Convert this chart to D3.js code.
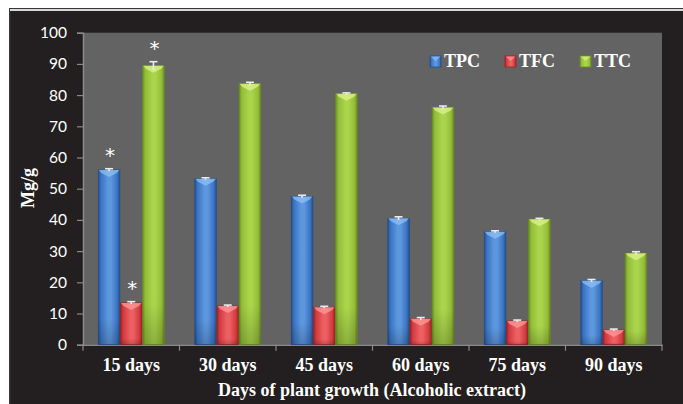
<!DOCTYPE html>
<html>
<head>
<meta charset="utf-8">
<script src="https://cdn.jsdelivr.net/npm/d3@7/dist/d3.min.js"></script>
<style>
  html, body { margin: 0; padding: 0; background: #ffffff; }
  svg { display: block; }
</style>
</head>
<body>
<svg id="chart" width="683" height="404"></svg>
<script>
// Phenolic (TPC), flavonoid (TFC) and tannin (TTC) content by harvest age
const categories = ["15 days", "30 days", "45 days", "60 days", "75 days", "90 days"];
const seriesNames = ["TPC", "TFC", "TTC"];
const tpcValues = [56.0, 53.2, 47.5, 40.5, 36.2, 20.5];
const tfcValues = [13.4, 12.4, 12.0, 8.3, 7.6, 4.7];
const ttcValues = [89.4, 83.6, 80.4, 76.0, 40.2, 29.3];
const tpcErrors = [0.4, 0.3, 0.4, 0.5, 0.3, 0.4];
const tfcErrors = [0.4, 0.3, 0.3, 0.4, 0.3, 0.3];
const ttcErrors = [1.3, 0.5, 0.3, 0.5, 0.3, 0.5];
// significance markers (*) per series and category
const tpcStars = [true, false, false, false, false, false];
const tfcStars = [true, false, false, false, false, false];
const ttcStars = [true, false, false, false, false, false];
const yTicks = [0, 10, 20, 30, 40, 50, 60, 70, 80, 90, 100];

const seriesValues = { TPC: tpcValues, TFC: tfcValues, TTC: ttcValues };
const seriesErrors = { TPC: tpcErrors, TFC: tfcErrors, TTC: ttcErrors };
const seriesStars = { TPC: tpcStars, TFC: tfcStars, TTC: ttcStars };

const palette = {
  TPC: { edge: "#22508f", base: "#3a74c2", light: "#5d97de", top: "#8fc0f4" },
  TFC: { edge: "#9c2226", base: "#d13a3e", light: "#ec5f62", top: "#ff9a9a" },
  TTC: { edge: "#6c8e25", base: "#93bd37", light: "#aad44c", top: "#dff38c" }
};

const svg = d3.select("#chart");
const W = 683, H = 404;
const plot = { left: 83, right: 662, top: 32.7, bottom: 344.7 };

// outer frame
svg.append("rect").attr("x", 0).attr("y", 0).attr("width", W).attr("height", H).attr("fill", "#ffffff");
svg.append("rect").attr("x", 9).attr("y", 8).attr("width", W - 9).attr("height", H - 8).attr("fill", "#3a3637");
svg.append("rect").attr("x", 10).attr("y", 9.2).attr("width", W - 10).attr("height", 1.6).attr("fill", "#ffffff");
svg.append("rect").attr("x", 10.5).attr("y", 11).attr("width", W - 10.5).attr("height", H - 11).attr("fill", "#231f20");

// plot background
svg.append("rect")
  .attr("x", plot.left).attr("y", plot.top)
  .attr("width", plot.right - plot.left).attr("height", plot.bottom - plot.top)
  .attr("fill", "#636363");

const x = d3.scaleBand().domain(categories).range([plot.left, plot.right]).paddingInner(0).paddingOuter(0);
const xs = d3.scaleBand().domain(seriesNames).range([0, x.bandwidth()]).paddingInner(0.03).paddingOuter(0.69);
const y = d3.scaleLinear().domain([0, 100]).range([plot.bottom, plot.top]);

// gradients
const defs = svg.append("defs");
seriesNames.forEach(s => {
  const c = palette[s];
  const g = defs.append("linearGradient").attr("id", "grad-" + s)
    .attr("x1", "0%").attr("x2", "100%").attr("y1", "0%").attr("y2", "0%");
  [[0, c.edge], [0.12, c.base], [0.45, c.light], [0.6, c.light], [0.88, c.base], [1, c.edge]]
    .forEach(([o, col]) => g.append("stop").attr("offset", o).attr("stop-color", col));
  const v = defs.append("linearGradient").attr("id", "vgrad-" + s)
    .attr("x1", "0%").attr("x2", "0%").attr("y1", "0%").attr("y2", "100%");
  v.append("stop").attr("offset", 0).attr("stop-color", "#000").attr("stop-opacity", 0);
  v.append("stop").attr("offset", 0.85).attr("stop-color", "#000").attr("stop-opacity", 0);
  v.append("stop").attr("offset", 1).attr("stop-color", "#000").attr("stop-opacity", 0.18);
});

// y axis
const yAxis = d3.axisLeft(y).tickValues(yTicks).tickSize(6).tickPadding(10).tickFormat(d3.format("d"));
const gy = svg.append("g").attr("transform", `translate(${plot.left},0)`).call(yAxis);
gy.select(".domain").attr("stroke", "#8a8a8a").attr("stroke-width", 1.5);
gy.selectAll(".tick line").attr("stroke", "#8a8a8a").attr("stroke-width", 1.2);
gy.selectAll(".tick text")
  .attr("fill", "#ffffff").attr("font-family", "Lato, 'Open Sans', sans-serif")
  .attr("font-size", 15.5);

// x axis
const xAxis = d3.axisBottom(x).tickSize(0).tickPadding(14);
const gx = svg.append("g").attr("transform", `translate(0,${plot.bottom})`).call(xAxis);
gx.select(".domain").attr("stroke", "#8a8a8a").attr("stroke-width", 1.5);
gx.selectAll(".tick text")
  .attr("fill", "#ffffff").attr("font-family", "'Liberation Serif', 'Times New Roman', serif")
  .attr("font-weight", "bold").attr("font-size", 18);
// category boundary ticks
const bounds = categories.map(c => x(c)).concat([x(categories[categories.length - 1]) + x.bandwidth()]);
svg.append("g").selectAll("line").data(bounds).join("line")
  .attr("x1", d => d).attr("x2", d => d)
  .attr("y1", plot.bottom).attr("y2", plot.bottom + 6)
  .attr("stroke", "#8a8a8a").attr("stroke-width", 1.2);

// bars
const rows = [];
categories.forEach((c, i) => {
  seriesNames.forEach(s => {
    rows.push({ cat: c, s, v: seriesValues[s][i], e: seriesErrors[s][i], star: seriesStars[s][i] });
  });
});

const bw = xs.bandwidth();
const barG = svg.append("g");
const bars = barG.selectAll("g.bar").data(rows).join("g").attr("class", "bar")
  .attr("transform", d => `translate(${x(d.cat) + xs(d.s)},0)`);

bars.append("rect")
  .attr("x", 0).attr("width", bw)
  .attr("y", d => y(d.v)).attr("height", d => y(0) - y(d.v))
  .attr("fill", d => `url(#grad-${d.s})`)
  .attr("stroke", d => palette[d.s].edge).attr("stroke-width", 0.8);
bars.append("rect")
  .attr("x", 0).attr("width", bw)
  .attr("y", d => y(d.v)).attr("height", d => y(0) - y(d.v))
  .attr("fill", d => `url(#vgrad-${d.s})`);
// bevelled top face
bars.append("path")
  .attr("d", d => {
    const t = y(d.v);
    return `M0.5,${t} L${bw - 0.5},${t} L${bw - 3},${t + 3} L${bw / 2},${t + 7} L3,${t + 3} Z`;
  })
  .attr("fill", d => palette[d.s].top).attr("opacity", 0.75);

// error bars
const errG = svg.append("g").attr("stroke", "#ececec").attr("stroke-width", 1.6);
rows.forEach(d => {
  const cx = x(d.cat) + xs(d.s) + bw / 2;
  const hi = y(d.v + d.e), lo = y(d.v - d.e);
  errG.append("line").attr("x1", cx).attr("x2", cx).attr("y1", hi).attr("y2", lo);
  errG.append("line").attr("x1", cx - 4).attr("x2", cx + 4).attr("y1", hi).attr("y2", hi);
});

// significance stars
svg.append("g").selectAll("text").data(rows.filter(d => d.star)).join("text")
  .attr("x", d => x(d.cat) + xs(d.s) + bw / 2 + 1)
  .attr("y", d => y(d.v + d.e) - 18 + 11)
  .attr("text-anchor", "middle")
  .attr("fill", "#ffffff")
  .attr("font-family", "'DejaVu Sans', sans-serif")
  .attr("font-size", 20)
  .text("*");

// legend
const legendX = d3.scaleOrdinal().domain(seriesNames).range([430, 505, 580]);
const lg = svg.append("g").selectAll("g").data(seriesNames).join("g")
  .attr("transform", d => `translate(${legendX(d)},56)`);
lg.append("rect").attr("width", 11).attr("height", 11)
  .attr("fill", d => `url(#grad-${d})`).attr("stroke", d => palette[d].edge).attr("stroke-width", 0.8);
lg.append("path").attr("d", "M0.5,0.5 L10.5,0.5 L5.5,5 Z")
  .attr("fill", d => palette[d].top).attr("opacity", 0.7);
lg.append("text").attr("x", 14).attr("y", 11)
  .attr("fill", "#ffffff").attr("font-family", "'Liberation Serif', 'Times New Roman', serif")
  .attr("font-weight", "bold").attr("font-size", 18)
  .text(d => d);

// axis titles
svg.append("text")
  .attr("x", (plot.left + plot.right) / 2 - 0.5).attr("y", 396)
  .attr("text-anchor", "middle").attr("fill", "#ffffff")
  .attr("font-family", "'Liberation Serif', 'Times New Roman', serif")
  .attr("font-weight", "bold").attr("font-size", 18)
  .text("Days of plant growth (Alcoholic extract)");
svg.append("text")
  .attr("transform", `translate(34,188) rotate(-90)`)
  .attr("text-anchor", "middle").attr("fill", "#ffffff")
  .attr("font-family", "'Liberation Serif', 'Times New Roman', serif")
  .attr("font-weight", "bold").attr("font-size", 18)
  .text("Mg/g");
</script>
</body>
</html>
